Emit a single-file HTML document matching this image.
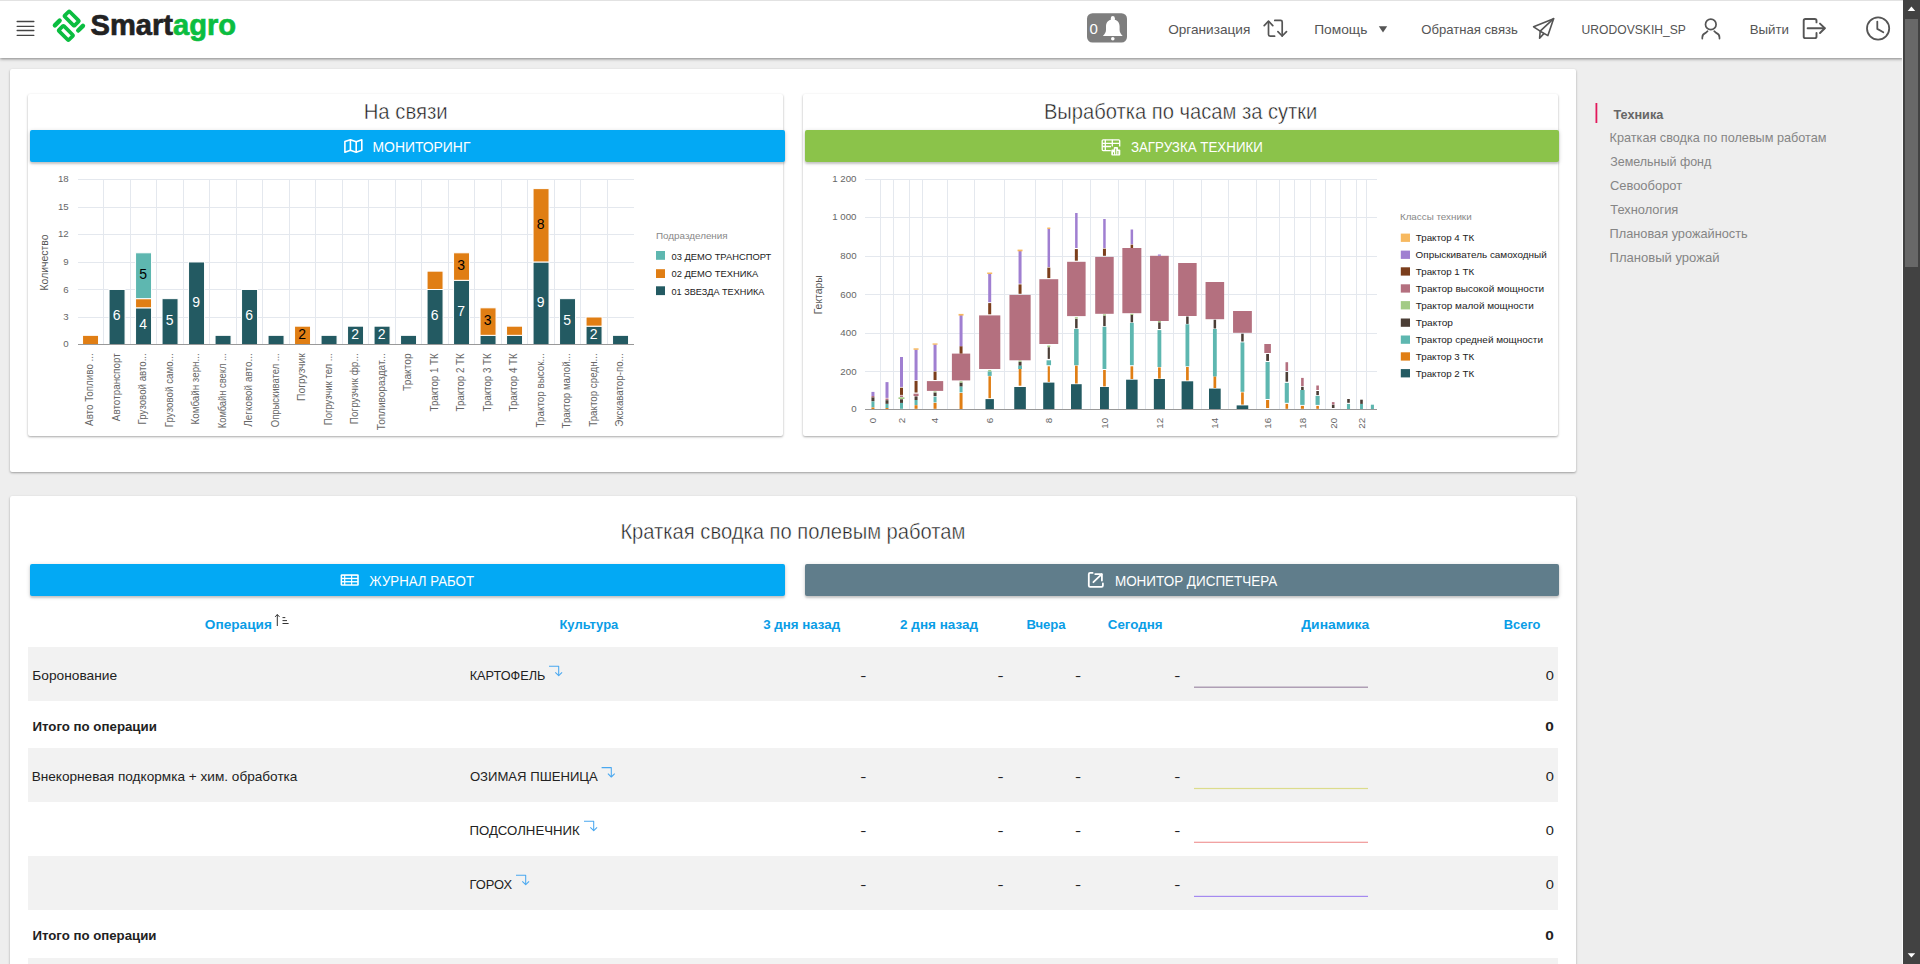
<!DOCTYPE html>
<html lang="ru"><head><meta charset="utf-8"><title>Smartagro</title><style>
*{margin:0;padding:0;box-sizing:border-box}
html,body{width:1920px;height:964px;overflow:hidden;background:#eeeeee;font-family:'Liberation Sans',sans-serif}
.a{position:absolute}
#hdr{left:0;top:0;width:1903px;height:58px;background:#fff;box-shadow:0 1px 3px rgba(0,0,0,.45)}
#hdrtop{left:0;top:0;width:1903px;height:1px;background:#e2e2e2}
.card{background:#fff;border-radius:2px;box-shadow:0 1px 3px rgba(0,0,0,.12),0 1px 2px rgba(0,0,0,.24)}
.btn{border-radius:2px;box-shadow:0 2px 2px rgba(0,0,0,.14),0 1px 4px rgba(0,0,0,.16)}
svg{position:absolute;left:0;top:0}
</style></head>
<body>
<div class="a card" style="left:10px;top:69px;width:1566px;height:403px"></div><div class="a card" style="left:28px;top:94px;width:755px;height:342px"></div><div class="a card" style="left:803px;top:94px;width:755px;height:342px"></div><div class="a btn" style="left:30px;top:130px;width:755px;height:32px;background:#03a9f4"></div><div class="a btn" style="left:805px;top:130px;width:754px;height:32px;background:#8bc34a"></div><div class="a card" style="left:10px;top:496px;width:1566px;height:500px"></div><div class="a btn" style="left:30px;top:564px;width:755px;height:32px;background:#03a9f4"></div><div class="a btn" style="left:805px;top:564px;width:754px;height:32px;background:#607d8b"></div><div class="a" style="left:28px;top:647px;width:1530px;height:54px;background:#f2f2f2"></div><div class="a" style="left:28px;top:748px;width:1530px;height:54px;background:#f2f2f2"></div><div class="a" style="left:28px;top:856px;width:1530px;height:54px;background:#f2f2f2"></div><div class="a" style="left:28px;top:958px;width:1530px;height:42px;background:#f2f2f2"></div><div id="hdr" class="a"></div><div id="hdrtop" class="a"></div>
<svg width="1920" height="964" viewBox="0 0 1920 964" font-family="'Liberation Sans', sans-serif"><rect x="78" y="317" width="556" height="1" fill="#e4e8ee"/><rect x="78" y="289" width="556" height="1" fill="#e4e8ee"/><rect x="78" y="262" width="556" height="1" fill="#e4e8ee"/><rect x="78" y="234" width="556" height="1" fill="#e4e8ee"/><rect x="78" y="207" width="556" height="1" fill="#e4e8ee"/><rect x="78" y="179" width="556" height="1" fill="#e4e8ee"/><rect x="103" y="179" width="1" height="165" fill="#e4e8ee"/><rect x="130" y="179" width="1" height="165" fill="#e4e8ee"/><rect x="156" y="179" width="1" height="165" fill="#e4e8ee"/><rect x="183" y="179" width="1" height="165" fill="#e4e8ee"/><rect x="209" y="179" width="1" height="165" fill="#e4e8ee"/><rect x="236" y="179" width="1" height="165" fill="#e4e8ee"/><rect x="262" y="179" width="1" height="165" fill="#e4e8ee"/><rect x="289" y="179" width="1" height="165" fill="#e4e8ee"/><rect x="315" y="179" width="1" height="165" fill="#e4e8ee"/><rect x="342" y="179" width="1" height="165" fill="#e4e8ee"/><rect x="368" y="179" width="1" height="165" fill="#e4e8ee"/><rect x="395" y="179" width="1" height="165" fill="#e4e8ee"/><rect x="421" y="179" width="1" height="165" fill="#e4e8ee"/><rect x="448" y="179" width="1" height="165" fill="#e4e8ee"/><rect x="474" y="179" width="1" height="165" fill="#e4e8ee"/><rect x="501" y="179" width="1" height="165" fill="#e4e8ee"/><rect x="527" y="179" width="1" height="165" fill="#e4e8ee"/><rect x="554" y="179" width="1" height="165" fill="#e4e8ee"/><rect x="580" y="179" width="1" height="165" fill="#e4e8ee"/><rect x="607" y="179" width="1" height="165" fill="#e4e8ee"/><rect x="82.55" y="335.33" width="16.0" height="9.17" fill="#e07e14" stroke="#fff" stroke-width="1"/><rect x="109.05" y="289.48" width="16.0" height="55.02" fill="#235a62" stroke="#fff" stroke-width="1"/><rect x="135.55" y="307.82" width="16.0" height="36.68" fill="#235a62" stroke="#fff" stroke-width="1"/><rect x="135.55" y="298.65" width="16.0" height="9.17" fill="#e07e14" stroke="#fff" stroke-width="1"/><rect x="135.55" y="252.80" width="16.0" height="45.85" fill="#5eb7b0" stroke="#fff" stroke-width="1"/><rect x="162.05" y="298.65" width="16.0" height="45.85" fill="#235a62" stroke="#fff" stroke-width="1"/><rect x="188.55" y="261.97" width="16.0" height="82.53" fill="#235a62" stroke="#fff" stroke-width="1"/><rect x="215.05" y="335.33" width="16.0" height="9.17" fill="#235a62" stroke="#fff" stroke-width="1"/><rect x="241.55" y="289.48" width="16.0" height="55.02" fill="#235a62" stroke="#fff" stroke-width="1"/><rect x="268.05" y="335.33" width="16.0" height="9.17" fill="#235a62" stroke="#fff" stroke-width="1"/><rect x="294.55" y="326.16" width="16.0" height="18.34" fill="#e07e14" stroke="#fff" stroke-width="1"/><rect x="321.05" y="335.33" width="16.0" height="9.17" fill="#235a62" stroke="#fff" stroke-width="1"/><rect x="347.55" y="326.16" width="16.0" height="18.34" fill="#235a62" stroke="#fff" stroke-width="1"/><rect x="374.05" y="326.16" width="16.0" height="18.34" fill="#235a62" stroke="#fff" stroke-width="1"/><rect x="400.55" y="335.33" width="16.0" height="9.17" fill="#235a62" stroke="#fff" stroke-width="1"/><rect x="427.05" y="289.48" width="16.0" height="55.02" fill="#235a62" stroke="#fff" stroke-width="1"/><rect x="427.05" y="271.14" width="16.0" height="18.34" fill="#e07e14" stroke="#fff" stroke-width="1"/><rect x="453.55" y="280.31" width="16.0" height="64.19" fill="#235a62" stroke="#fff" stroke-width="1"/><rect x="453.55" y="252.80" width="16.0" height="27.51" fill="#e07e14" stroke="#fff" stroke-width="1"/><rect x="480.05" y="335.33" width="16.0" height="9.17" fill="#235a62" stroke="#fff" stroke-width="1"/><rect x="480.05" y="307.82" width="16.0" height="27.51" fill="#e07e14" stroke="#fff" stroke-width="1"/><rect x="506.55" y="335.33" width="16.0" height="9.17" fill="#235a62" stroke="#fff" stroke-width="1"/><rect x="506.55" y="326.16" width="16.0" height="9.17" fill="#e07e14" stroke="#fff" stroke-width="1"/><rect x="533.05" y="261.97" width="16.0" height="82.53" fill="#235a62" stroke="#fff" stroke-width="1"/><rect x="533.05" y="188.61" width="16.0" height="73.36" fill="#e07e14" stroke="#fff" stroke-width="1"/><rect x="559.55" y="298.65" width="16.0" height="45.85" fill="#235a62" stroke="#fff" stroke-width="1"/><rect x="586.05" y="326.16" width="16.0" height="18.34" fill="#235a62" stroke="#fff" stroke-width="1"/><rect x="586.05" y="316.99" width="16.0" height="9.17" fill="#e07e14" stroke="#fff" stroke-width="1"/><rect x="612.55" y="335.33" width="16.0" height="9.17" fill="#235a62" stroke="#fff" stroke-width="1"/><rect x="78" y="344" width="556" height="1" fill="#999999"/><text x="116.75" y="320.29" font-size="14" fill="#fff" text-anchor="middle">6</text><text x="143.25" y="329.46" font-size="14" fill="#fff" text-anchor="middle">4</text><text x="143.25" y="279.03" font-size="14" fill="#000" text-anchor="middle">5</text><text x="169.75" y="324.88" font-size="14" fill="#fff" text-anchor="middle">5</text><text x="196.25" y="306.54" font-size="14" fill="#fff" text-anchor="middle">9</text><text x="249.25" y="320.29" font-size="14" fill="#fff" text-anchor="middle">6</text><text x="302.25" y="338.63" font-size="14" fill="#000" text-anchor="middle">2</text><text x="355.25" y="338.63" font-size="14" fill="#fff" text-anchor="middle">2</text><text x="381.75" y="338.63" font-size="14" fill="#fff" text-anchor="middle">2</text><text x="434.75" y="320.29" font-size="14" fill="#fff" text-anchor="middle">6</text><text x="461.25" y="315.70" font-size="14" fill="#fff" text-anchor="middle">7</text><text x="461.25" y="269.86" font-size="14" fill="#000" text-anchor="middle">3</text><text x="487.75" y="324.88" font-size="14" fill="#000" text-anchor="middle">3</text><text x="540.75" y="306.54" font-size="14" fill="#fff" text-anchor="middle">9</text><text x="540.75" y="228.59" font-size="14" fill="#000" text-anchor="middle">8</text><text x="567.25" y="324.88" font-size="14" fill="#fff" text-anchor="middle">5</text><text x="593.75" y="338.63" font-size="14" fill="#fff" text-anchor="middle">2</text><text transform="translate(93.15,353.3) rotate(-90)" font-size="10.2" fill="#666" text-anchor="end" textLength="72.6" lengthAdjust="spacingAndGlyphs">Авто Топливо ...</text><text transform="translate(119.65,353.3) rotate(-90)" font-size="10.2" fill="#666" text-anchor="end" textLength="67.9" lengthAdjust="spacingAndGlyphs">Автотранспорт</text><text transform="translate(146.15,353.3) rotate(-90)" font-size="10.2" fill="#666" text-anchor="end" textLength="71.1" lengthAdjust="spacingAndGlyphs">Грузовой авто...</text><text transform="translate(172.65,353.3) rotate(-90)" font-size="10.2" fill="#666" text-anchor="end" textLength="73.9" lengthAdjust="spacingAndGlyphs">Грузовой само...</text><text transform="translate(199.15,353.3) rotate(-90)" font-size="10.2" fill="#666" text-anchor="end" textLength="71.1" lengthAdjust="spacingAndGlyphs">Комбайн зерн...</text><text transform="translate(225.65,353.3) rotate(-90)" font-size="10.2" fill="#666" text-anchor="end" textLength="74.9" lengthAdjust="spacingAndGlyphs">Комбайн свекл ...</text><text transform="translate(252.15,353.3) rotate(-90)" font-size="10.2" fill="#666" text-anchor="end" textLength="73.4" lengthAdjust="spacingAndGlyphs">Легковой авто...</text><text transform="translate(278.65,353.3) rotate(-90)" font-size="10.2" fill="#666" text-anchor="end" textLength="73.9" lengthAdjust="spacingAndGlyphs">Опрыскивател ...</text><text transform="translate(305.15,353.3) rotate(-90)" font-size="10.2" fill="#666" text-anchor="end" textLength="47.7" lengthAdjust="spacingAndGlyphs">Погрузчик</text><text transform="translate(331.65,353.3) rotate(-90)" font-size="10.2" fill="#666" text-anchor="end" textLength="71.9" lengthAdjust="spacingAndGlyphs">Погрузчик тел ...</text><text transform="translate(358.15,353.3) rotate(-90)" font-size="10.2" fill="#666" text-anchor="end" textLength="70.9" lengthAdjust="spacingAndGlyphs">Погрузчик фр...</text><text transform="translate(384.65,353.3) rotate(-90)" font-size="10.2" fill="#666" text-anchor="end" textLength="76.9" lengthAdjust="spacingAndGlyphs">Топливораздат...</text><text transform="translate(411.15,353.3) rotate(-90)" font-size="10.2" fill="#666" text-anchor="end" textLength="37.7" lengthAdjust="spacingAndGlyphs">Трактор</text><text transform="translate(437.65,353.3) rotate(-90)" font-size="10.2" fill="#666" text-anchor="end" textLength="58.2" lengthAdjust="spacingAndGlyphs">Трактор 1 ТК</text><text transform="translate(464.15,353.3) rotate(-90)" font-size="10.2" fill="#666" text-anchor="end" textLength="58.2" lengthAdjust="spacingAndGlyphs">Трактор 2 ТК</text><text transform="translate(490.65,353.3) rotate(-90)" font-size="10.2" fill="#666" text-anchor="end" textLength="58.2" lengthAdjust="spacingAndGlyphs">Трактор 3 ТК</text><text transform="translate(517.15,353.3) rotate(-90)" font-size="10.2" fill="#666" text-anchor="end" textLength="58.2" lengthAdjust="spacingAndGlyphs">Трактор 4 ТК</text><text transform="translate(543.65,353.3) rotate(-90)" font-size="10.2" fill="#666" text-anchor="end" textLength="74.1" lengthAdjust="spacingAndGlyphs">Трактор высок...</text><text transform="translate(570.15,353.3) rotate(-90)" font-size="10.2" fill="#666" text-anchor="end" textLength="75.2" lengthAdjust="spacingAndGlyphs">Трактор малой...</text><text transform="translate(596.65,353.3) rotate(-90)" font-size="10.2" fill="#666" text-anchor="end" textLength="73.5" lengthAdjust="spacingAndGlyphs">Трактор средн...</text><text transform="translate(623.15,353.3) rotate(-90)" font-size="10.2" fill="#666" text-anchor="end" textLength="73.5" lengthAdjust="spacingAndGlyphs">Экскаватор-по...</text><text transform="translate(47.6,262.5) rotate(-90)" font-size="11" fill="#555" text-anchor="middle" textLength="56" lengthAdjust="spacingAndGlyphs">Количество</text><rect x="656" y="251" width="9" height="8.8" fill="#5eb7b0"/><rect x="656" y="269.2" width="9" height="8.8" fill="#e07e14"/><rect x="656" y="286.3" width="9" height="8.8" fill="#235a62"/><rect x="865" y="371" width="512" height="1" fill="#e4e8ee"/><rect x="865" y="333" width="512" height="1" fill="#e4e8ee"/><rect x="865" y="294" width="512" height="1" fill="#e4e8ee"/><rect x="865" y="256" width="512" height="1" fill="#e4e8ee"/><rect x="865" y="217" width="512" height="1" fill="#e4e8ee"/><rect x="865" y="179" width="512" height="1" fill="#e4e8ee"/><rect x="880" y="179" width="1" height="230" fill="#e4e8ee"/><rect x="893" y="179" width="1" height="230" fill="#e4e8ee"/><rect x="909" y="179" width="1" height="230" fill="#e4e8ee"/><rect x="922" y="179" width="1" height="230" fill="#e4e8ee"/><rect x="947" y="179" width="1" height="230" fill="#e4e8ee"/><rect x="974" y="179" width="1" height="230" fill="#e4e8ee"/><rect x="1004" y="179" width="1" height="230" fill="#e4e8ee"/><rect x="1035" y="179" width="1" height="230" fill="#e4e8ee"/><rect x="1062" y="179" width="1" height="230" fill="#e4e8ee"/><rect x="1090" y="179" width="1" height="230" fill="#e4e8ee"/><rect x="1118" y="179" width="1" height="230" fill="#e4e8ee"/><rect x="1145" y="179" width="1" height="230" fill="#e4e8ee"/><rect x="1173" y="179" width="1" height="230" fill="#e4e8ee"/><rect x="1201" y="179" width="1" height="230" fill="#e4e8ee"/><rect x="1228" y="179" width="1" height="230" fill="#e4e8ee"/><rect x="1256" y="179" width="1" height="230" fill="#e4e8ee"/><rect x="1279" y="179" width="1" height="230" fill="#e4e8ee"/><rect x="1294" y="179" width="1" height="230" fill="#e4e8ee"/><rect x="1310" y="179" width="1" height="230" fill="#e4e8ee"/><rect x="1325" y="179" width="1" height="230" fill="#e4e8ee"/><rect x="1340" y="179" width="1" height="230" fill="#e4e8ee"/><rect x="1356" y="179" width="1" height="230" fill="#e4e8ee"/><rect x="1366" y="179" width="1" height="230" fill="#e4e8ee"/><rect x="871.45" y="407.40" width="3.00" height="1.60" fill="#e07e14"/><rect x="871.45" y="401.40" width="3.00" height="5.80" fill="#5eb7b0"/><rect x="871.45" y="397.30" width="3.00" height="3.90" fill="#4b3e36"/><rect x="871.45" y="396.00" width="3.00" height="1.30" fill="#b4707f"/><rect x="871.45" y="391.90" width="3.00" height="4.10" fill="#a07fd1"/><rect x="885.50" y="408.00" width="3.00" height="1.00" fill="#e07e14"/><rect x="885.50" y="403.80" width="3.00" height="4.20" fill="#5eb7b0"/><rect x="885.50" y="400.20" width="3.00" height="3.60" fill="#4b3e36"/><rect x="885.50" y="398.50" width="3.00" height="1.50" fill="#b4707f"/><rect x="885.50" y="382.10" width="3.00" height="15.80" fill="#a07fd1"/><rect x="900.00" y="402.90" width="3.00" height="5.90" fill="#5eb7b0"/><rect x="900.00" y="399.30" width="3.00" height="3.60" fill="#4b3e36"/><rect x="898.50" y="397.30" width="6.00" height="1.70" fill="#a3cb86"/><rect x="900.00" y="395.50" width="3.00" height="1.50" fill="#b4707f"/><rect x="900.00" y="387.70" width="3.00" height="7.20" fill="#7b3e1c"/><rect x="900.00" y="357.00" width="3.00" height="29.90" fill="#a07fd1"/><rect x="914.55" y="405.20" width="3.00" height="3.60" fill="#e07e14"/><rect x="914.55" y="400.00" width="3.00" height="5.00" fill="#5eb7b0"/><rect x="914.55" y="396.40" width="3.00" height="3.60" fill="#4b3e36"/><rect x="913.55" y="393.70" width="5.00" height="2.30" fill="#b4707f"/><rect x="914.55" y="380.90" width="3.00" height="11.60" fill="#7b3e1c"/><rect x="914.55" y="349.50" width="3.00" height="30.70" fill="#a07fd1"/><rect x="913.55" y="348.30" width="5.00" height="1.50" fill="#f7b960"/><rect x="933.55" y="402.90" width="3.00" height="5.90" fill="#e07e14"/><rect x="933.55" y="396.70" width="3.00" height="5.70" fill="#5eb7b0"/><rect x="933.55" y="392.50" width="3.00" height="3.60" fill="#4b3e36"/><rect x="933.55" y="391.40" width="3.00" height="0.90" fill="#a3cb86"/><rect x="926.90" y="381.10" width="16.30" height="9.80" fill="#b4707f"/><rect x="933.55" y="371.60" width="3.00" height="8.40" fill="#7b3e1c"/><rect x="933.55" y="344.40" width="3.00" height="26.60" fill="#a07fd1"/><rect x="932.55" y="343.40" width="5.00" height="1.30" fill="#f7b960"/><rect x="959.55" y="393.00" width="3.00" height="16.00" fill="#e07e14"/><rect x="959.55" y="386.40" width="3.00" height="6.00" fill="#5eb7b0"/><rect x="959.55" y="382.60" width="3.00" height="3.80" fill="#4b3e36"/><rect x="959.55" y="381.30" width="3.00" height="1.30" fill="#a3cb86"/><rect x="951.90" y="353.60" width="18.30" height="26.80" fill="#b4707f"/><rect x="959.55" y="346.20" width="3.00" height="7.40" fill="#7b3e1c"/><rect x="959.55" y="315.00" width="3.00" height="31.20" fill="#a07fd1"/><rect x="958.55" y="313.90" width="5.00" height="1.70" fill="#f7b960"/><rect x="985.50" y="399.10" width="8.40" height="9.90" fill="#235a62"/><rect x="988.45" y="376.30" width="2.50" height="21.90" fill="#e07e14"/><rect x="987.70" y="371.40" width="4.00" height="4.50" fill="#5eb7b0"/><rect x="988.20" y="370.00" width="3.00" height="1.40" fill="#a3cb86"/><rect x="979.10" y="315.40" width="21.20" height="53.60" fill="#b4707f"/><rect x="988.20" y="303.10" width="3.00" height="11.20" fill="#7b3e1c"/><rect x="988.20" y="273.70" width="3.00" height="28.50" fill="#a07fd1"/><rect x="987.20" y="272.50" width="5.00" height="1.50" fill="#f7b960"/><rect x="1014.25" y="387.00" width="11.60" height="22.00" fill="#235a62"/><rect x="1018.70" y="369.00" width="2.70" height="16.70" fill="#e07e14"/><rect x="1018.15" y="365.60" width="3.80" height="3.40" fill="#5eb7b0"/><rect x="1018.55" y="361.80" width="3.00" height="3.80" fill="#4b3e36"/><rect x="1018.55" y="360.50" width="3.00" height="1.30" fill="#a3cb86"/><rect x="1009.45" y="294.90" width="21.20" height="65.40" fill="#b4707f"/><rect x="1018.55" y="284.40" width="3.00" height="9.40" fill="#7b3e1c"/><rect x="1018.55" y="250.90" width="3.00" height="32.80" fill="#a07fd1"/><rect x="1017.55" y="249.60" width="5.00" height="1.70" fill="#f7b960"/><rect x="1043.20" y="382.60" width="11.20" height="26.40" fill="#235a62"/><rect x="1047.70" y="366.30" width="2.20" height="15.60" fill="#e07e14"/><rect x="1046.55" y="360.30" width="4.50" height="4.90" fill="#5eb7b0"/><rect x="1047.70" y="347.30" width="2.20" height="11.60" fill="#4b3e36"/><rect x="1047.30" y="345.50" width="3.00" height="1.50" fill="#a3cb86"/><rect x="1039.35" y="279.20" width="18.90" height="64.80" fill="#b4707f"/><rect x="1047.30" y="267.60" width="3.00" height="10.50" fill="#7b3e1c"/><rect x="1047.55" y="228.60" width="2.50" height="38.40" fill="#a07fd1"/><rect x="1047.30" y="227.50" width="3.00" height="1.50" fill="#f7b960"/><rect x="1071.00" y="384.20" width="10.70" height="24.80" fill="#235a62"/><rect x="1075.00" y="365.60" width="2.70" height="17.90" fill="#e07e14"/><rect x="1074.10" y="329.00" width="4.50" height="36.20" fill="#5eb7b0"/><rect x="1075.10" y="318.80" width="2.50" height="9.50" fill="#4b3e36"/><rect x="1074.85" y="317.20" width="3.00" height="1.30" fill="#a3cb86"/><rect x="1067.10" y="261.80" width="18.50" height="54.30" fill="#b4707f"/><rect x="1074.85" y="249.10" width="3.00" height="11.60" fill="#7b3e1c"/><rect x="1075.10" y="213.00" width="2.50" height="35.00" fill="#a07fd1"/><rect x="1100.00" y="387.00" width="8.90" height="22.00" fill="#235a62"/><rect x="1103.10" y="370.00" width="2.70" height="16.40" fill="#e07e14"/><rect x="1102.55" y="326.80" width="3.80" height="42.20" fill="#5eb7b0"/><rect x="1103.20" y="315.60" width="2.50" height="10.50" fill="#4b3e36"/><rect x="1102.95" y="314.30" width="3.00" height="1.30" fill="#a3cb86"/><rect x="1095.20" y="256.90" width="18.50" height="56.90" fill="#b4707f"/><rect x="1102.95" y="248.70" width="3.00" height="7.10" fill="#7b3e1c"/><rect x="1103.20" y="219.00" width="2.50" height="29.00" fill="#a07fd1"/><rect x="1126.10" y="379.70" width="11.50" height="29.30" fill="#235a62"/><rect x="1130.50" y="366.30" width="2.70" height="12.70" fill="#e07e14"/><rect x="1129.95" y="322.80" width="3.80" height="42.40" fill="#5eb7b0"/><rect x="1130.60" y="315.00" width="2.50" height="7.30" fill="#4b3e36"/><rect x="1130.35" y="313.80" width="3.00" height="1.20" fill="#a3cb86"/><rect x="1122.35" y="248.00" width="19.00" height="65.20" fill="#b4707f"/><rect x="1130.60" y="244.60" width="2.50" height="3.40" fill="#7b3e1c"/><rect x="1130.60" y="229.50" width="2.50" height="14.70" fill="#a07fd1"/><rect x="1153.85" y="379.00" width="11.10" height="30.00" fill="#235a62"/><rect x="1158.05" y="367.40" width="2.70" height="11.20" fill="#e07e14"/><rect x="1157.50" y="330.10" width="3.80" height="36.90" fill="#5eb7b0"/><rect x="1158.15" y="322.30" width="2.50" height="6.70" fill="#4b3e36"/><rect x="1157.90" y="321.00" width="3.00" height="1.30" fill="#a3cb86"/><rect x="1150.05" y="255.80" width="18.70" height="65.20" fill="#b4707f"/><rect x="1157.90" y="254.50" width="3.00" height="1.30" fill="#a07fd1"/><rect x="1181.60" y="381.30" width="11.60" height="27.70" fill="#235a62"/><rect x="1186.05" y="367.00" width="2.70" height="13.40" fill="#e07e14"/><rect x="1185.50" y="324.30" width="3.80" height="42.00" fill="#5eb7b0"/><rect x="1186.15" y="316.50" width="2.50" height="7.40" fill="#4b3e36"/><rect x="1178.15" y="263.00" width="18.50" height="53.00" fill="#b4707f"/><rect x="1209.00" y="388.60" width="11.70" height="20.40" fill="#235a62"/><rect x="1213.50" y="376.40" width="2.70" height="11.60" fill="#e07e14"/><rect x="1212.95" y="329.00" width="3.80" height="47.40" fill="#5eb7b0"/><rect x="1213.60" y="319.70" width="2.50" height="8.80" fill="#4b3e36"/><rect x="1205.55" y="282.00" width="18.60" height="37.20" fill="#b4707f"/><rect x="1236.65" y="405.40" width="11.60" height="3.60" fill="#235a62"/><rect x="1241.10" y="392.40" width="2.70" height="12.20" fill="#e07e14"/><rect x="1240.55" y="342.40" width="3.80" height="49.40" fill="#5eb7b0"/><rect x="1241.20" y="333.70" width="2.50" height="7.80" fill="#4b3e36"/><rect x="1233.05" y="311.00" width="18.80" height="21.80" fill="#b4707f"/><rect x="1266.05" y="400.00" width="3.10" height="8.00" fill="#e07e14"/><rect x="1265.55" y="362.00" width="4.10" height="37.00" fill="#5eb7b0"/><rect x="1266.20" y="354.00" width="2.80" height="6.90" fill="#4b3e36"/><rect x="1264.30" y="344.00" width="6.60" height="9.00" fill="#b4707f"/><rect x="1285.50" y="403.90" width="2.60" height="4.90" fill="#e07e14"/><rect x="1284.75" y="382.90" width="4.10" height="19.90" fill="#5eb7b0"/><rect x="1285.50" y="372.00" width="2.60" height="9.70" fill="#4b3e36"/><rect x="1285.50" y="362.20" width="2.60" height="8.80" fill="#b4707f"/><rect x="1300.85" y="405.90" width="3.10" height="2.90" fill="#e07e14"/><rect x="1300.20" y="390.00" width="4.40" height="14.90" fill="#5eb7b0"/><rect x="1301.10" y="386.80" width="2.60" height="3.20" fill="#4b3e36"/><rect x="1301.10" y="377.90" width="2.60" height="8.10" fill="#b4707f"/><rect x="1316.30" y="405.90" width="2.60" height="2.90" fill="#e07e14"/><rect x="1315.55" y="395.90" width="4.10" height="9.00" fill="#5eb7b0"/><rect x="1316.30" y="391.00" width="2.60" height="4.10" fill="#4b3e36"/><rect x="1316.30" y="385.50" width="2.60" height="4.50" fill="#b4707f"/><rect x="1331.90" y="404.70" width="2.60" height="3.30" fill="#4b3e36"/><rect x="1331.90" y="402.10" width="2.60" height="2.40" fill="#b4707f"/><rect x="1346.95" y="403.90" width="3.10" height="5.10" fill="#5eb7b0"/><rect x="1347.20" y="399.00" width="2.60" height="3.80" fill="#4b3e36"/><rect x="1360.05" y="403.90" width="2.90" height="5.10" fill="#5eb7b0"/><rect x="1360.20" y="399.70" width="2.60" height="4.20" fill="#4b3e36"/><rect x="1370.85" y="404.70" width="3.10" height="4.30" fill="#5eb7b0"/><rect x="865" y="409" width="512" height="1" fill="#999999"/><text transform="translate(876.35,417.8) rotate(-90)" font-size="9.8" fill="#666" text-anchor="end">0</text><text transform="translate(904.90,417.8) rotate(-90)" font-size="9.8" fill="#666" text-anchor="end">2</text><text transform="translate(938.45,417.8) rotate(-90)" font-size="9.8" fill="#666" text-anchor="end">4</text><text transform="translate(993.10,417.8) rotate(-90)" font-size="9.8" fill="#666" text-anchor="end">6</text><text transform="translate(1052.20,417.8) rotate(-90)" font-size="9.8" fill="#666" text-anchor="end">8</text><text transform="translate(1107.85,417.8) rotate(-90)" font-size="9.8" fill="#666" text-anchor="end">10</text><text transform="translate(1162.80,417.8) rotate(-90)" font-size="9.8" fill="#666" text-anchor="end">12</text><text transform="translate(1218.25,417.8) rotate(-90)" font-size="9.8" fill="#666" text-anchor="end">14</text><text transform="translate(1271.00,417.8) rotate(-90)" font-size="9.8" fill="#666" text-anchor="end">16</text><text transform="translate(1305.80,417.8) rotate(-90)" font-size="9.8" fill="#666" text-anchor="end">18</text><text transform="translate(1336.60,417.8) rotate(-90)" font-size="9.8" fill="#666" text-anchor="end">20</text><text transform="translate(1364.90,417.8) rotate(-90)" font-size="9.8" fill="#666" text-anchor="end">22</text><text transform="translate(822,294.8) rotate(-90)" font-size="11" fill="#555" text-anchor="middle" textLength="39" lengthAdjust="spacingAndGlyphs">Гектары</text><rect x="1400.8" y="233.6" width="9.2" height="8.3" fill="#f7b960"/><rect x="1400.8" y="250.6" width="9.2" height="8.3" fill="#a07fd1"/><rect x="1400.8" y="267.3" width="9.2" height="8.3" fill="#7b3e1c"/><rect x="1400.8" y="284.3" width="9.2" height="8.3" fill="#b4707f"/><rect x="1400.8" y="301.1" width="9.2" height="8.3" fill="#a3cb86"/><rect x="1400.8" y="318.5" width="9.2" height="8.3" fill="#4b3e36"/><rect x="1400.8" y="335.5" width="9.2" height="8.3" fill="#5eb7b0"/><rect x="1400.8" y="352.3" width="9.2" height="8.3" fill="#e07e14"/><rect x="1400.8" y="369.1" width="9.2" height="8.3" fill="#235a62"/><rect x="16.5" y="20.85" width="18" height="1.3" rx="0.6" fill="#444"/><rect x="16.5" y="25.65" width="18" height="1.3" rx="0.6" fill="#444"/><rect x="16.5" y="29.85" width="18" height="1.3" rx="0.6" fill="#444"/><rect x="16.5" y="34.65" width="18" height="1.3" rx="0.6" fill="#444"/><g transform="translate(68.75,25.75) rotate(45)" fill="none" stroke="#0bbd40">
<rect x="-10.05" y="-10.65" width="14.0" height="7.0" rx="0.9" stroke-width="3.7"/>
<rect x="-3.95" y="3.65" width="14.0" height="7.0" rx="0.9" stroke-width="3.7"/>
<rect x="7.9" y="-12.2" width="4.4" height="11.1" rx="2.2" fill="#0bbd40" stroke="none"/>
<rect x="-12.3" y="0.6" width="4.4" height="11.1" rx="2.2" fill="#0bbd40" stroke="none"/>
</g><text x="90.52" y="35.0" font-size="30.0" font-weight="bold" textLength="145.52" lengthAdjust="spacingAndGlyphs"><tspan fill="#222" stroke="#222" stroke-width="0.7">Smart</tspan><tspan fill="#0bbd40" stroke="#0bbd40" stroke-width="0.7">agro</tspan></text><rect x="1087" y="13.2" width="40" height="29.4" rx="5.5" fill="#7e7e7e"/><path d="M1112.8,19.6 C1108.3,19.6 1106,22.6 1106,26.6 L1106,30 C1106,32.5 1104.4,34.3 1102.9,36.1 L1122.7,36.1 C1121.2,34.3 1119.6,32.5 1119.6,30 L1119.6,26.6 C1119.6,22.6 1117.3,19.6 1112.8,19.6 Z" fill="#fff"/><circle cx="1112.8" cy="18.1" r="2" fill="#fff"/><rect x="1110.8" y="18.1" width="4" height="2.5" fill="#fff"/><circle cx="1112.8" cy="38.8" r="1.8" fill="#fff"/><g fill="none" stroke="#555555" stroke-width="1.7" stroke-linecap="round" stroke-linejoin="round"><path d="M1268.5,21.5 V34.6 Q1268.5,36.2 1270.1,36.2 H1274.6"/><path d="M1264.2,25.6 L1268.5,21.2 L1272.8,25.6"/><path d="M1274.8,20.4 H1280.6 Q1282.2,20.4 1282.2,22 V36"/><path d="M1277.9,31.6 L1282.2,36 L1286.5,31.6"/></g><polygon points="1378.8,26.2 1387.2,26.2 1383,32.5" fill="#555555"/><g fill="none" stroke="#555555" stroke-width="1.6" stroke-linejoin="round" stroke-linecap="round"><path d="M1533.6,26.8 L1553.6,18.7 L1547.9,35.6 L1540.2,31.2 Z"/><path d="M1553.6,18.7 L1540.2,31.2 L1539.6,38.2 L1543.8,33.6"/></g><g fill="none" stroke="#555555" stroke-width="1.7" stroke-linecap="round"><circle cx="1710.8" cy="24.4" r="5.3"/><path d="M1702.3,38.6 V37.4 C1702.3,34.9 1703.6,33.7 1705.6,32.9 L1707.6,31.2"/><path d="M1719.5,38.6 V37.4 C1719.5,34.9 1718.2,33.7 1716.2,32.9 L1714.2,31.2"/></g><g fill="none" stroke="#555555" stroke-width="1.9" stroke-linecap="round" stroke-linejoin="round"><path d="M1816.5,22.4 V20.7 Q1816.5,19 1814.8,19 H1805.4 Q1803.7,19 1803.7,20.7 V36.4 Q1803.7,38.1 1805.4,38.1 H1814.8 Q1816.5,38.1 1816.5,36.4 V33"/><path d="M1807.6,28.3 H1824.6"/><path d="M1820,23.6 L1824.8,28.3 L1820,33"/></g><g fill="none" stroke="#555555" stroke-width="1.8" stroke-linecap="round" stroke-linejoin="round"><circle cx="1878.1" cy="28.5" r="11.1"/><path d="M1877.3,21.6 V28.9 L1883.3,32.2"/></g><g fill="none" stroke="#fff" stroke-width="1.6" stroke-linejoin="round"><path d="M344.9,141.6 L350.4,139.7 L356.2,141.7 L361.8,139.7 L361.8,150.3 L356.2,152.2 L350.4,150.3 L344.9,152.2 Z"/><path d="M350.4,139.7 V150.3 M356.2,141.7 V152.2"/></g><g fill="none" stroke="#fff" stroke-width="1.3"><path d="M1110.8,150.6 H1103.2 Q1102.2,150.6 1102.2,149.6 V140.8 Q1102.2,139.8 1103.2,139.8 H1118.7 Q1119.7,139.8 1119.7,140.8 V146.6"/><path d="M1102.2,143.3 H1119.7 M1102.2,146.5 H1111 M1105.3,139.8 V150.6 M1112.3,139.8 V146.5"/></g><rect x="1111.3" y="149.6" width="9" height="6" rx="1" fill="#fff"/><rect x="1113.8" y="146.9" width="4.2" height="3.5" rx="0.8" fill="#fff"/><rect x="1113" y="152.3" width="1" height="2" fill="#8bc34a"/><rect x="1115.2" y="148.6" width="1" height="5.7" fill="#8bc34a"/><rect x="1117.4" y="151" width="1" height="3.3" fill="#8bc34a"/><rect x="340.6" y="574.3" width="18.2" height="11.5" rx="1.3" fill="#fff"/><rect x="342.1" y="575.90" width="2" height="1.9" fill="#03a9f4"/><rect x="345.3" y="575.90" width="5.8" height="1.9" fill="#03a9f4"/><rect x="352.2" y="575.90" width="5" height="1.9" fill="#03a9f4"/><rect x="342.1" y="579.15" width="2" height="1.9" fill="#03a9f4"/><rect x="345.3" y="579.15" width="5.8" height="1.9" fill="#03a9f4"/><rect x="352.2" y="579.15" width="5" height="1.9" fill="#03a9f4"/><rect x="342.1" y="582.40" width="2" height="1.9" fill="#03a9f4"/><rect x="345.3" y="582.40" width="5.8" height="1.9" fill="#03a9f4"/><rect x="352.2" y="582.40" width="5" height="1.9" fill="#03a9f4"/><g fill="none" stroke="#fff" stroke-width="1.8" stroke-linecap="round" stroke-linejoin="round"><path d="M1092.6,572.9 H1090.1 Q1088.8,572.9 1088.8,574.2 V585.6 Q1088.8,586.9 1090.1,586.9 H1101.6 Q1102.9,586.9 1102.9,585.6 V583.4"/><path d="M1093.4,582.2 L1101.5,574.3"/><path d="M1095.2,574.1 H1101.9 V580.6"/></g><g fill="none" stroke="#333" stroke-width="1"><path d="M277.3,614.6 V626"/><path d="M275.1,616.9 L277.3,614.5 L279.5,616.9"/><path d="M282.5,617.6 H285.3 M282.5,620.6 H287 M282.5,623.5 H288.6"/></g><g fill="none" stroke="#4aa8f0" stroke-width="1.05" stroke-linejoin="round"><path d="M549.0,666.2 H558.7 V675.6"/><path d="M555.3,672.3 L558.7,675.6 L562.1,672.3"/></g><g fill="none" stroke="#4aa8f0" stroke-width="1.05" stroke-linejoin="round"><path d="M601.6,767.6 H611.3 V777.0"/><path d="M607.9,773.7 L611.3,777.0 L614.7,773.7"/></g><g fill="none" stroke="#4aa8f0" stroke-width="1.05" stroke-linejoin="round"><path d="M584.0,821.3 H593.7 V830.7"/><path d="M590.3,827.4 L593.7,830.7 L597.1,827.4"/></g><g fill="none" stroke="#4aa8f0" stroke-width="1.05" stroke-linejoin="round"><path d="M516.0,875.2 H525.7 V884.6"/><path d="M522.3,881.3 L525.7,884.6 L529.1,881.3"/></g><rect x="1194" y="686.6" width="174" height="1.2" fill="#9e8aa6"/><rect x="1194" y="787.9" width="174" height="1.2" fill="#dcdc8c"/><rect x="1194" y="841.7" width="174" height="1.2" fill="#f09898"/><rect x="1194" y="895.8" width="174" height="1.2" fill="#a58af0"/><rect x="1595.5" y="103" width="1.8" height="20" fill="#e2185b"/><rect x="1903" y="0" width="17" height="964" fill="#424242"/><rect x="1905" y="19" width="13" height="248" fill="#686868"/><polygon points="1907.7,11 1915.2,11 1911.45,6.5" fill="#fff"/><polygon points="1907.7,953.2 1915.2,953.2 1911.45,957.5" fill="#fff"/><rect x="1902" y="58" width="1" height="906" fill="#fafafa"/><text x="1168.19" y="33.90" font-size="13.6" fill="#555555" textLength="82.12" lengthAdjust="spacingAndGlyphs">Организация</text><text x="1314.20" y="33.90" font-size="13.6" fill="#555555" textLength="53.17" lengthAdjust="spacingAndGlyphs">Помощь</text><text x="1421.21" y="33.90" font-size="13.6" fill="#555555" textLength="96.63" lengthAdjust="spacingAndGlyphs">Обратная связь</text><text x="1581.59" y="33.90" font-size="13.6" fill="#555555" textLength="104.34" lengthAdjust="spacingAndGlyphs">URODOVSKIH_SP</text><text x="1749.64" y="33.90" font-size="13.6" fill="#555555" textLength="39.38" lengthAdjust="spacingAndGlyphs">Выйти</text><text x="1089.47" y="33.90" font-size="14" fill="#ffffff" textLength="8.37" lengthAdjust="spacingAndGlyphs">0</text><text x="363.68" y="119.00" font-size="22" fill="#1e1e1e" stroke="#fff" stroke-width="0.45" textLength="83.92" lengthAdjust="spacingAndGlyphs">На связи</text><text x="1043.89" y="118.90" font-size="22" fill="#1e1e1e" stroke="#fff" stroke-width="0.45" textLength="273.49" lengthAdjust="spacingAndGlyphs">Выработка по часам за сутки</text><text x="620.39" y="539.30" font-size="21.5" fill="#1e1e1e" stroke="#fff" stroke-width="0.45" textLength="345.07" lengthAdjust="spacingAndGlyphs">Краткая сводка по полевым работам</text><text x="372.49" y="151.80" font-size="13.8" fill="#ffffff" textLength="97.94" lengthAdjust="spacingAndGlyphs">МОНИТОРИНГ</text><text x="1130.90" y="152.00" font-size="13.8" fill="#ffffff" textLength="131.95" lengthAdjust="spacingAndGlyphs">ЗАГРУЗКА ТЕХНИКИ</text><text x="369.37" y="585.80" font-size="13.8" fill="#ffffff" textLength="104.66" lengthAdjust="spacingAndGlyphs">ЖУРНАЛ РАБОТ</text><text x="1114.92" y="585.90" font-size="13.8" fill="#ffffff" textLength="162.44" lengthAdjust="spacingAndGlyphs">МОНИТОР ДИСПЕТЧЕРА</text><text x="1613.47" y="119.20" font-size="13.5" fill="#666666" font-weight="bold" textLength="49.81" lengthAdjust="spacingAndGlyphs">Техника</text><text x="1609.59" y="142.00" font-size="13.5" fill="#858585" textLength="216.97" lengthAdjust="spacingAndGlyphs">Краткая сводка по полевым работам</text><text x="1610.23" y="166.00" font-size="13.5" fill="#858585" textLength="101.04" lengthAdjust="spacingAndGlyphs">Земельный фонд</text><text x="1609.95" y="190.00" font-size="13.5" fill="#858585" textLength="72.21" lengthAdjust="spacingAndGlyphs">Севооборот</text><text x="1610.34" y="214.00" font-size="13.5" fill="#858585" textLength="68.01" lengthAdjust="spacingAndGlyphs">Технология</text><text x="1609.58" y="238.00" font-size="13.5" fill="#858585" textLength="138.14" lengthAdjust="spacingAndGlyphs">Плановая урожайность</text><text x="1609.56" y="262.00" font-size="13.5" fill="#858585" textLength="109.94" lengthAdjust="spacingAndGlyphs">Плановый урожай</text><text x="204.85" y="629.00" font-size="13.4" fill="#0a9de6" font-weight="bold" textLength="67.08" lengthAdjust="spacingAndGlyphs">Операция</text><text x="559.46" y="629.00" font-size="13.4" fill="#0a9de6" font-weight="bold" textLength="58.83" lengthAdjust="spacingAndGlyphs">Культура</text><text x="763.13" y="629.00" font-size="13.4" fill="#0a9de6" font-weight="bold" textLength="77.06" lengthAdjust="spacingAndGlyphs">3 дня назад</text><text x="900.10" y="629.00" font-size="13.4" fill="#0a9de6" font-weight="bold" textLength="77.90" lengthAdjust="spacingAndGlyphs">2 дня назад</text><text x="1026.45" y="629.00" font-size="13.4" fill="#0a9de6" font-weight="bold" textLength="39.24" lengthAdjust="spacingAndGlyphs">Вчера</text><text x="1107.77" y="629.00" font-size="13.4" fill="#0a9de6" font-weight="bold" textLength="54.75" lengthAdjust="spacingAndGlyphs">Сегодня</text><text x="1301.23" y="629.00" font-size="13.4" fill="#0a9de6" font-weight="bold" textLength="67.95" lengthAdjust="spacingAndGlyphs">Динамика</text><text x="1503.76" y="629.00" font-size="13.4" fill="#0a9de6" font-weight="bold" textLength="36.70" lengthAdjust="spacingAndGlyphs">Всего</text><text x="32.30" y="679.90" font-size="13.6" fill="#222222" textLength="84.76" lengthAdjust="spacingAndGlyphs">Боронование</text><text x="469.68" y="679.80" font-size="13.6" fill="#222222" textLength="75.67" lengthAdjust="spacingAndGlyphs">КАРТОФЕЛЬ</text><text x="32.44" y="730.80" font-size="13.6" fill="#222222" font-weight="bold" textLength="124.42" lengthAdjust="spacingAndGlyphs">Итого по операции</text><text x="31.71" y="781.20" font-size="13.6" fill="#222222" textLength="265.74" lengthAdjust="spacingAndGlyphs">Внекорневая подкормка + хим. обработка</text><text x="469.91" y="781.20" font-size="13.6" fill="#222222" textLength="127.85" lengthAdjust="spacingAndGlyphs">ОЗИМАЯ ПШЕНИЦА</text><text x="469.44" y="834.90" font-size="13.6" fill="#222222" textLength="110.29" lengthAdjust="spacingAndGlyphs">ПОДСОЛНЕЧНИК</text><text x="469.47" y="888.80" font-size="13.6" fill="#222222" textLength="42.65" lengthAdjust="spacingAndGlyphs">ГОРОХ</text><text x="32.44" y="939.60" font-size="13.6" fill="#222222" font-weight="bold" textLength="124.02" lengthAdjust="spacingAndGlyphs">Итого по операции</text><text x="860.16" y="679.90" font-size="13.6" fill="#222222" textLength="6.13" lengthAdjust="spacingAndGlyphs">-</text><text x="997.46" y="679.90" font-size="13.6" fill="#222222" textLength="6.13" lengthAdjust="spacingAndGlyphs">-</text><text x="1075.06" y="679.90" font-size="13.6" fill="#222222" textLength="6.13" lengthAdjust="spacingAndGlyphs">-</text><text x="1174.26" y="679.90" font-size="13.6" fill="#222222" textLength="6.13" lengthAdjust="spacingAndGlyphs">-</text><text x="1545.69" y="679.90" font-size="13.6" fill="#222222" textLength="8.14" lengthAdjust="spacingAndGlyphs">0</text><text x="860.16" y="781.20" font-size="13.6" fill="#222222" textLength="6.13" lengthAdjust="spacingAndGlyphs">-</text><text x="997.46" y="781.20" font-size="13.6" fill="#222222" textLength="6.13" lengthAdjust="spacingAndGlyphs">-</text><text x="1075.06" y="781.20" font-size="13.6" fill="#222222" textLength="6.13" lengthAdjust="spacingAndGlyphs">-</text><text x="1174.26" y="781.20" font-size="13.6" fill="#222222" textLength="6.13" lengthAdjust="spacingAndGlyphs">-</text><text x="1545.69" y="781.20" font-size="13.6" fill="#222222" textLength="8.14" lengthAdjust="spacingAndGlyphs">0</text><text x="860.16" y="834.90" font-size="13.6" fill="#222222" textLength="6.13" lengthAdjust="spacingAndGlyphs">-</text><text x="997.46" y="834.90" font-size="13.6" fill="#222222" textLength="6.13" lengthAdjust="spacingAndGlyphs">-</text><text x="1075.06" y="834.90" font-size="13.6" fill="#222222" textLength="6.13" lengthAdjust="spacingAndGlyphs">-</text><text x="1174.26" y="834.90" font-size="13.6" fill="#222222" textLength="6.13" lengthAdjust="spacingAndGlyphs">-</text><text x="1545.69" y="834.90" font-size="13.6" fill="#222222" textLength="8.14" lengthAdjust="spacingAndGlyphs">0</text><text x="860.16" y="888.80" font-size="13.6" fill="#222222" textLength="6.13" lengthAdjust="spacingAndGlyphs">-</text><text x="997.46" y="888.80" font-size="13.6" fill="#222222" textLength="6.13" lengthAdjust="spacingAndGlyphs">-</text><text x="1075.06" y="888.80" font-size="13.6" fill="#222222" textLength="6.13" lengthAdjust="spacingAndGlyphs">-</text><text x="1174.26" y="888.80" font-size="13.6" fill="#222222" textLength="6.13" lengthAdjust="spacingAndGlyphs">-</text><text x="1545.69" y="888.80" font-size="13.6" fill="#222222" textLength="8.14" lengthAdjust="spacingAndGlyphs">0</text><text x="1545.26" y="730.80" font-size="13.6" fill="#222222" font-weight="bold" textLength="8.60" lengthAdjust="spacingAndGlyphs">0</text><text x="1545.26" y="939.60" font-size="13.6" fill="#222222" font-weight="bold" textLength="8.60" lengthAdjust="spacingAndGlyphs">0</text><text x="57.91" y="182.30" font-size="9.7" fill="#666666">18</text><text x="57.91" y="209.90" font-size="9.7" fill="#666666">15</text><text x="57.96" y="237.20" font-size="9.7" fill="#666666">12</text><text x="63.35" y="265.10" font-size="9.7" fill="#666666">9</text><text x="63.30" y="292.70" font-size="9.7" fill="#666666">6</text><text x="63.30" y="320.30" font-size="9.7" fill="#666666">3</text><text x="63.26" y="347.20" font-size="9.7" fill="#666666">0</text><text x="656.01" y="239.00" font-size="9.5" fill="#888888" textLength="71.64" lengthAdjust="spacingAndGlyphs">Подразделения</text><text x="671.47" y="259.60" font-size="9.6" fill="#222222" textLength="99.72" lengthAdjust="spacingAndGlyphs">03 ДЕМО ТРАНСПОРТ</text><text x="671.47" y="277.40" font-size="9.6" fill="#222222" textLength="86.70" lengthAdjust="spacingAndGlyphs">02 ДЕМО ТЕХНИКА</text><text x="671.48" y="294.80" font-size="9.6" fill="#222222" textLength="92.89" lengthAdjust="spacingAndGlyphs">01 ЗВЕЗДА ТЕХНИКА</text><text x="832.28" y="182.30" font-size="9.7" fill="#666666">1 200</text><text x="832.28" y="220.00" font-size="9.7" fill="#666666">1 000</text><text x="840.37" y="259.20" font-size="9.7" fill="#666666">800</text><text x="840.37" y="297.90" font-size="9.7" fill="#666666">600</text><text x="840.37" y="336.20" font-size="9.7" fill="#666666">400</text><text x="840.37" y="374.60" font-size="9.7" fill="#666666">200</text><text x="851.16" y="412.30" font-size="9.7" fill="#666666">0</text><text x="1399.91" y="220.00" font-size="9.6" fill="#888888" textLength="71.76" lengthAdjust="spacingAndGlyphs">Классы техники</text><text x="1415.80" y="241.40" font-size="9.6" fill="#222222" textLength="58.32" lengthAdjust="spacingAndGlyphs">Трактор 4 ТК</text><text x="1415.55" y="258.40" font-size="9.6" fill="#222222" textLength="131.13" lengthAdjust="spacingAndGlyphs">Опрыскиватель самоходный</text><text x="1415.80" y="275.10" font-size="9.6" fill="#222222" textLength="58.32" lengthAdjust="spacingAndGlyphs">Трактор 1 ТК</text><text x="1415.80" y="292.10" font-size="9.6" fill="#222222" textLength="128.29" lengthAdjust="spacingAndGlyphs">Трактор высокой мощности</text><text x="1415.80" y="308.90" font-size="9.6" fill="#222222" textLength="118.08" lengthAdjust="spacingAndGlyphs">Трактор малой мощности</text><text x="1415.80" y="326.30" font-size="9.6" fill="#222222" textLength="37.12" lengthAdjust="spacingAndGlyphs">Трактор</text><text x="1415.80" y="343.30" font-size="9.6" fill="#222222" textLength="127.18" lengthAdjust="spacingAndGlyphs">Трактор средней мощности</text><text x="1415.80" y="360.10" font-size="9.6" fill="#222222" textLength="58.32" lengthAdjust="spacingAndGlyphs">Трактор 3 ТК</text><text x="1415.80" y="376.90" font-size="9.6" fill="#222222" textLength="58.32" lengthAdjust="spacingAndGlyphs">Трактор 2 ТК</text></svg>
</body></html>
